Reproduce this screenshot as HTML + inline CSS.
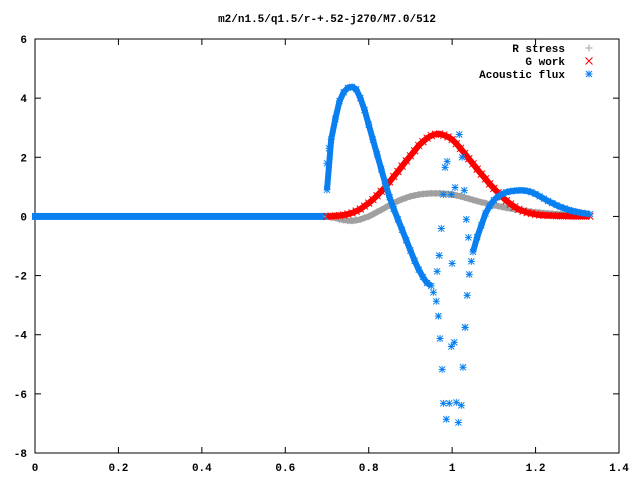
<!DOCTYPE html>
<html><head><meta charset="utf-8"><style>
body{margin:0;background:#fff}
svg text{font-family:"Liberation Mono",monospace;font-weight:bold;font-size:11px;fill:#000}
</style></head><body>
<svg id="chart" width="640" height="480" xmlns="http://www.w3.org/2000/svg">
<rect width="640" height="480" fill="#fff"/>
<text x="327" y="22" text-anchor="middle">m2/n1.5/q1.5/r-+.52-j270/M7.0/512</text>
<g id="axes"></g>
<g id="marks"></g>
<g id="legend"></g>
</svg>
<script>
const xTicks=[0,0.2,0.4,0.6,0.8,1,1.2,1.4];
const xTickLabels=["0","0.2","0.4","0.6","0.8","1","1.2","1.4"];
const yTicks=[-8,-6,-4,-2,0,2,4,6];
const yTickLabels=["-8","-6","-4","-2","0","2","4","6"];
const gridX=[0.70,0.71,0.72,0.73,0.74,0.75,0.76,0.77,0.78,0.79,0.80,0.81,0.82,0.83,0.84,0.85,0.86,0.87,0.88,0.89,0.90,0.91,0.92,0.93,0.94,0.95,0.96,0.97,0.98,0.99,1.00,1.01,1.02,1.03,1.04,1.05,1.06,1.07,1.08,1.09,1.10,1.11,1.12,1.13,1.14,1.15,1.16,1.17,1.18,1.19,1.20,1.21,1.22,1.23,1.24,1.25,1.26,1.27,1.28,1.29,1.30,1.31,1.32,1.33];
const rStress=[0,-0.03,-0.05,-0.09,-0.12,-0.14,-0.15,-0.13,-0.1,-0.05,0,0.07,0.15,0.22,0.3,0.38,0.45,0.52,0.58,0.63,0.68,0.71,0.74,0.76,0.77,0.78,0.78,0.78,0.77,0.76,0.74,0.71,0.68,0.64,0.6,0.56,0.52,0.48,0.45,0.41,0.38,0.35,0.32,0.29,0.27,0.24,0.22,0.2,0.18,0.16,0.14,0.13,0.11,0.1,0.09,0.08,0.07,0.06,0.05,0.04,0.04,0.03,0.03,0.02];
const gWork=[0,0.01,0.02,0.03,0.05,0.08,0.12,0.18,0.25,0.35,0.45,0.57,0.7,0.85,1.0,1.17,1.35,1.52,1.7,1.88,2.05,2.22,2.4,2.53,2.65,2.73,2.78,2.79,2.75,2.69,2.6,2.46,2.3,2.13,1.95,1.78,1.6,1.43,1.27,1.1,0.95,0.8,0.66,0.53,0.42,0.32,0.24,0.18,0.13,0.1,0.07,0.05,0.04,0.03,0.03,0.02,0.02,0.02,0.01,0.01,0.01,0.01,0.01,0.01];
const acoustic=[0.9,2.6,3.3,3.9,4.2,4.35,4.38,4.3,4.0,3.6,3.1,2.6,2.1,1.6,1.1,0.65,0.25,-0.1,-0.45,-0.8,-1.15,-1.5,-1.8,-2.05,-2.25,-2.35,null,null,null,null,null,null,null,null,null,-1.2,-0.7,-0.3,0.1,0.35,0.55,0.68,0.76,0.82,0.85,0.87,0.88,0.88,0.86,0.82,0.76,0.68,0.6,0.52,0.45,0.38,0.32,0.27,0.22,0.18,0.15,0.12,0.1,0.08];
const scatterX=[0.70,0.705,1.017,0.988,0.983,1.024,1.007,1.029,0.979,0.998,1.034,0.974,1.039,0.969,1.000,1.046,0.964,1.041,0.955,1.036,0.962,1.031,0.967,1.031,0.971,1.005,0.998,0.976,1.026,0.979,0.993,1.010,1.022,0.986,1.015];
const scatterY=[1.8,2.3,2.77,1.86,1.66,2.0,0.98,0.88,0.74,0.74,-0.1,-0.41,-0.71,-1.32,-1.59,-1.52,-1.86,-1.96,-2.57,-2.67,-2.87,-3.75,-3.37,-3.75,-4.13,-4.26,-4.4,-5.17,-5.1,-6.32,-6.32,-6.29,-6.39,-6.86,-6.97];
const zeroEnd=0.70;

const L=35,R=619,T=39,B=453;
const xS=v=>L+(v-0)/1.4*(R-L);
const yS=v=>B-(v+8)/14*(B-T);
const NS="http://www.w3.org/2000/svg";
function mk(tag,attrs,parent){const e=document.createElementNS(NS,tag);for(const k in attrs)e.setAttribute(k,attrs[k]);parent.appendChild(e);return e;}
const axes=document.getElementById('axes'),marks=document.getElementById('marks'),legend=document.getElementById('legend');
const frame=mk('rect',{x:L,y:T,width:R-L,height:B-T,fill:'none',stroke:'#000','stroke-width':1},axes);


xTicks.forEach((v,i)=>{const x=xS(v);
 mk('line',{x1:x,y1:B,x2:x,y2:B-6,stroke:'#000'},axes);
 mk('line',{x1:x,y1:T,x2:x,y2:T+6,stroke:'#000'},axes);
 const t=mk('text',{x:x,y:B+18,'text-anchor':'middle'},axes);t.textContent=xTickLabels[i];
 
 
});
yTicks.forEach((v,i)=>{const y=yS(v);
 mk('line',{x1:L,y1:y,x2:L+6,y2:y,stroke:'#000'},axes);
 mk('line',{x1:R,y1:y,x2:R-6,y2:y,stroke:'#000'},axes);
 const t=mk('text',{x:L-8,y:y+4,'text-anchor':'end'},axes);t.textContent=yTickLabels[i];
 
 
});
function plus(g,x,y,c){mk('path',{d:`M${x-3.5} ${y}H${x+3.5}M${x} ${y-3.5}V${y+3.5}`,stroke:c,'stroke-width':1,fill:'none'},g);}
function cross(g,x,y,c){mk('path',{d:`M${x-3.5} ${y-3.5}L${x+3.5} ${y+3.5}M${x-3.5} ${y+3.5}L${x+3.5} ${y-3.5}`,stroke:c,'stroke-width':1,fill:'none'},g);}
function star(g,x,y,c){mk('path',{d:`M${x-3.5} ${y}H${x+3.5}M${x} ${y-3.5}V${y+3.5}M${x-3} ${y-3}L${x+3} ${y+3}M${x-3} ${y+3}L${x+3} ${y-3}`,stroke:c,'stroke-width':1,fill:'none'},g);}
function series(name,vals,color,fn,w){
 const g=mk('g',{},marks);
 
 
 let segs=[],cur=[];
 vals.forEach((v,i)=>{if(v===null){if(cur.length)segs.push(cur);cur=[];}else cur.push([xS(gridX[i]),yS(v)]);});
 if(cur.length)segs.push(cur);
 segs.forEach(s=>mk('polyline',{points:s.map(p=>p.join(',')).join(' '),fill:'none',stroke:color,'stroke-width':w,'stroke-linejoin':'round'},g));
 vals.forEach((v,i)=>{if(v!==null)fn(g,xS(gridX[i]),yS(v),color);});
 return g;
}
// zero segment before data
const zg=mk('g',{},marks);


mk('rect',{x:xS(0)-3,y:yS(0)-3.5,width:xS(zeroEnd)-xS(0)+3,height:7,fill:'#0a80f0'},zg);
series('r-stress-series',rStress,'#a0a0a0',plus,6);
series('g-work-series',gWork,'#ff0000',cross,6);
const ag=series('acoustic-flux-series',acoustic,'#0a80f0',star,6);
scatterX.forEach((v,i)=>star(ag,xS(v),yS(scatterY[i]),'#0a80f0'));
const leg=[['R stress','#a0a0a0',plus,48],['G work','#ff0000',cross,61],['Acoustic flux','#0a80f0',star,74]];
leg.forEach(([lab,c,fn,y])=>{
 const g=mk('g',{},legend);
 
 
 const t=mk('text',{x:565,y:y+4,'text-anchor':'end'},g);t.textContent=lab;
 fn(g,589,y,c);
});
</script>
</body></html>
